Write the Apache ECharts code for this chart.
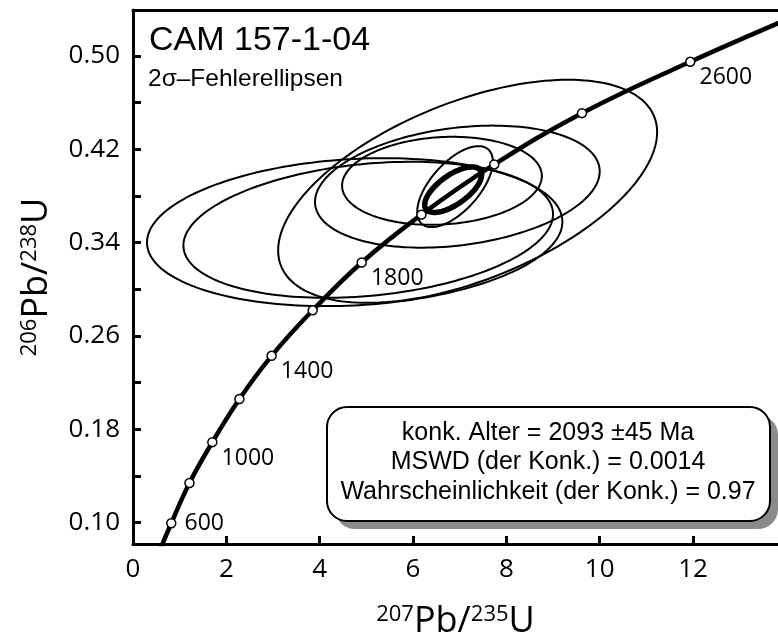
<!DOCTYPE html>
<html>
<head>
<meta charset="utf-8">
<script src="https://cdn.jsdelivr.net/npm/echarts@6/dist/echarts.min.js"></script>
<style>
  html, body { margin: 0; padding: 0; background: #fff; }
  #chart { width: 778px; height: 638px; }
</style>
</head>
<body>
<div id="chart"></div>
<script>
// concordia curve, ages in Ma
const concAges = [400, 600, 800, 1000, 1200, 1400, 1600, 1800, 2000, 2200, 2400, 2600, 2800]
const concX = [0.45, 0.82, 1.21, 1.70, 2.28, 2.97, 3.85, 4.90, 6.18, 7.74, 9.62, 11.94, 14.76]
const concY = [0.064, 0.0995, 0.134, 0.169, 0.206, 0.243, 0.282, 0.323, 0.364, 0.407, 0.451, 0.495, 0.544]
const labelledAges = [600, 1000, 1400, 1800, 2600]

// 2-sigma error ellipses: centre, half width (x), half height (y), correlation
const ellX = [4.75, 5.04, 7.17, 6.95, 6.62, 6.90]
const ellY = [0.349, 0.351, 0.384, 0.388, 0.393, 0.388]
const ellA = [4.45, 3.96, 4.06, 3.05, 2.14, 0.81]
const ellB = [0.0634, 0.0583, 0.0956, 0.0523, 0.0377, 0.0347]
const ellRho = [0.14, 0.23, 0.53, 0.25, 0.11, 0.62]

// concordia age ellipse
const ageEllX = [6.86]
const ageEllY = [0.3854]
const ageEllA = [0.61]
const ageEllB = [0.0195]
const ageEllRho = [0.66]

const xTicks = [0, 2, 4, 6, 8, 10, 12]
const yTicks = [0.10, 0.14, 0.18, 0.22, 0.26, 0.30, 0.34, 0.38, 0.42, 0.46, 0.50]
const yLabels = [0.10, 0.18, 0.26, 0.34, 0.42, 0.50]

const resultLines = [
  'konk. Alter = 2093 ±45 Ma',
  'MSWD (der Konk.) = 0.0014',
  'Wahrscheinlichkeit (der Konk.) = 0.97'
]

const chart = echarts.init(document.getElementById('chart'))

const numFont = 'Open Sans'
const textFont = 'Liberation Sans'

function ellipseItem(lineWidth) {
  return function(params, api) {
    const cx = api.value(0)
    const cy = api.value(1)
    const a = api.value(2)
    const b = api.value(3)
    const r = api.value(4)
    const k = Math.sqrt(1 - r * r)
    const pts = []
    for (let i = 0; i < 180; i++) {
      const t = i / 180 * Math.PI * 2
      pts.push(api.coord([cx + a * Math.cos(t), cy + b * (r * Math.cos(t) + k * Math.sin(t))]))
    }
    return {
      type: 'polygon',
      shape: { points: pts },
      style: { fill: 'none', stroke: '#000', lineWidth: lineWidth }
    }
  }
}

const ellData = ellX.map((v, i) => [v, ellY[i], ellA[i], ellB[i], ellRho[i]])
const ageEllData = ageEllX.map((v, i) => [v, ageEllY[i], ageEllA[i], ageEllB[i], ageEllRho[i]])
const concLine = concX.map((v, i) => [v, concY[i]])
const concMarks = concAges.map((age, i) => {
  const item = { value: [concX[i], concY[i]] }
  if (labelledAges.indexOf(age) >= 0) {
    item.label = {
      show: true,
      formatter: String(age),
      offset: age === 600 ? [5, 0] : [1, 16]
    }
  }
  return item
})

const axisLine = { lineStyle: { color: '#000', width: 3 } }
const nameRich = {
  s: { fontFamily: numFont, fontSize: 22, color: '#000', verticalAlign: 'top' },
  m: { fontFamily: numFont, fontSize: 36, color: '#000', verticalAlign: 'bottom' }
}

chart.setOption({
  backgroundColor: '#fff',
  animation: false,
  grid: { left: 133, right: 0, top: 10, bottom: 94, containLabel: false, outerBoundsMode: 'none' },
  xAxis: [{
    type: 'value',
    min: 0,
    max: 13.82,
    name: '{s|207}{m|Pb/}{s|235}{m|U}',
    nameLocation: 'middle',
    nameGap: 60,
    nameTextStyle: { rich: nameRich },
    axisLine: Object.assign({ onZero: false }, axisLine),
    axisTick: { inside: true, length: 8, lineStyle: { color: '#000', width: 3 }, customValues: xTicks },
    axisLabel: { fontFamily: numFont, fontSize: 26, color: '#000', margin: 13, customValues: xTicks },
    splitLine: { show: false }
  }, {
    type: 'value',
    position: 'top',
    min: 0,
    max: 13.82,
    axisLine: Object.assign({ onZero: false }, axisLine),
    axisTick: { show: false },
    axisLabel: { show: false },
    splitLine: { show: false }
  }],
  yAxis: {
    type: 'value',
    min: 0.0817,
    max: 0.5394,
    name: '{s|206}{m|Pb/}{s|238}{m|U}',
    nameLocation: 'middle',
    nameRotate: 90,
    nameGap: 78,
    nameTextStyle: { rich: nameRich },
    axisLine: Object.assign({ onZero: false }, axisLine),
    axisTick: { inside: true, length: 8, lineStyle: { color: '#000', width: 3 }, customValues: yTicks },
    axisLabel: {
      fontFamily: numFont, fontSize: 26, color: '#000', margin: 13,
      customValues: yLabels,
      formatter: v => v.toFixed(2)
    },
    splitLine: { show: false }
  },
  series: [{
    type: 'custom',
    renderItem: ellipseItem(2),
    encode: { x: 0, y: 1 },
    data: ellData,
    z: 2,
    silent: true
  }, {
    type: 'custom',
    renderItem: ellipseItem(5.5),
    encode: { x: 0, y: 1 },
    data: ageEllData,
    z: 3,
    silent: true
  }, {
    type: 'line',
    data: concLine,
    smooth: 0.4,
    showSymbol: false,
    symbol: 'none',
    lineStyle: { color: '#000', width: 4.5 },
    clip: true,
    z: 4
  }, {
    type: 'scatter',
    data: concMarks,
    symbol: 'circle',
    symbolSize: 9,
    itemStyle: { color: '#fff', borderColor: '#000', borderWidth: 1.5, opacity: 1 },
    label: {
      position: 'right',
      distance: 3,
      fontFamily: numFont,
      fontSize: 23,
      color: '#000'
    },
    clip: true,
    z: 5
  }],
  graphic: [{
    type: 'text',
    left: 149,
    top: 24,
    style: { text: 'CAM 157-1-04', fontFamily: textFont, fontSize: 34, fill: '#000' }
  }, {
    type: 'text',
    left: 148,
    top: 67,
    style: { text: '2σ–Fehlerellipsen', fontFamily: textFont, fontSize: 24.5, fill: '#000' }
  }, {
    type: 'rect',
    shape: { x: 335, y: 415, width: 443, height: 114, r: 20 },
    style: { fill: '#8a8a8c' },
    z: 10
  }, {
    type: 'rect',
    shape: { x: 327, y: 407, width: 443, height: 114, r: 20 },
    style: { fill: '#fff', stroke: '#000', lineWidth: 2 },
    z: 11
  }].concat(resultLines.map((t, i) => ({
    type: 'text',
    x: 548,
    y: 433 + i * 29.5,
    style: {
      text: t,
      fontFamily: textFont,
      fontSize: 25,
      fill: '#000',
      align: 'center',
      verticalAlign: 'middle'
    },
    z: 12
  })))
})
</script>
</body>
</html>
